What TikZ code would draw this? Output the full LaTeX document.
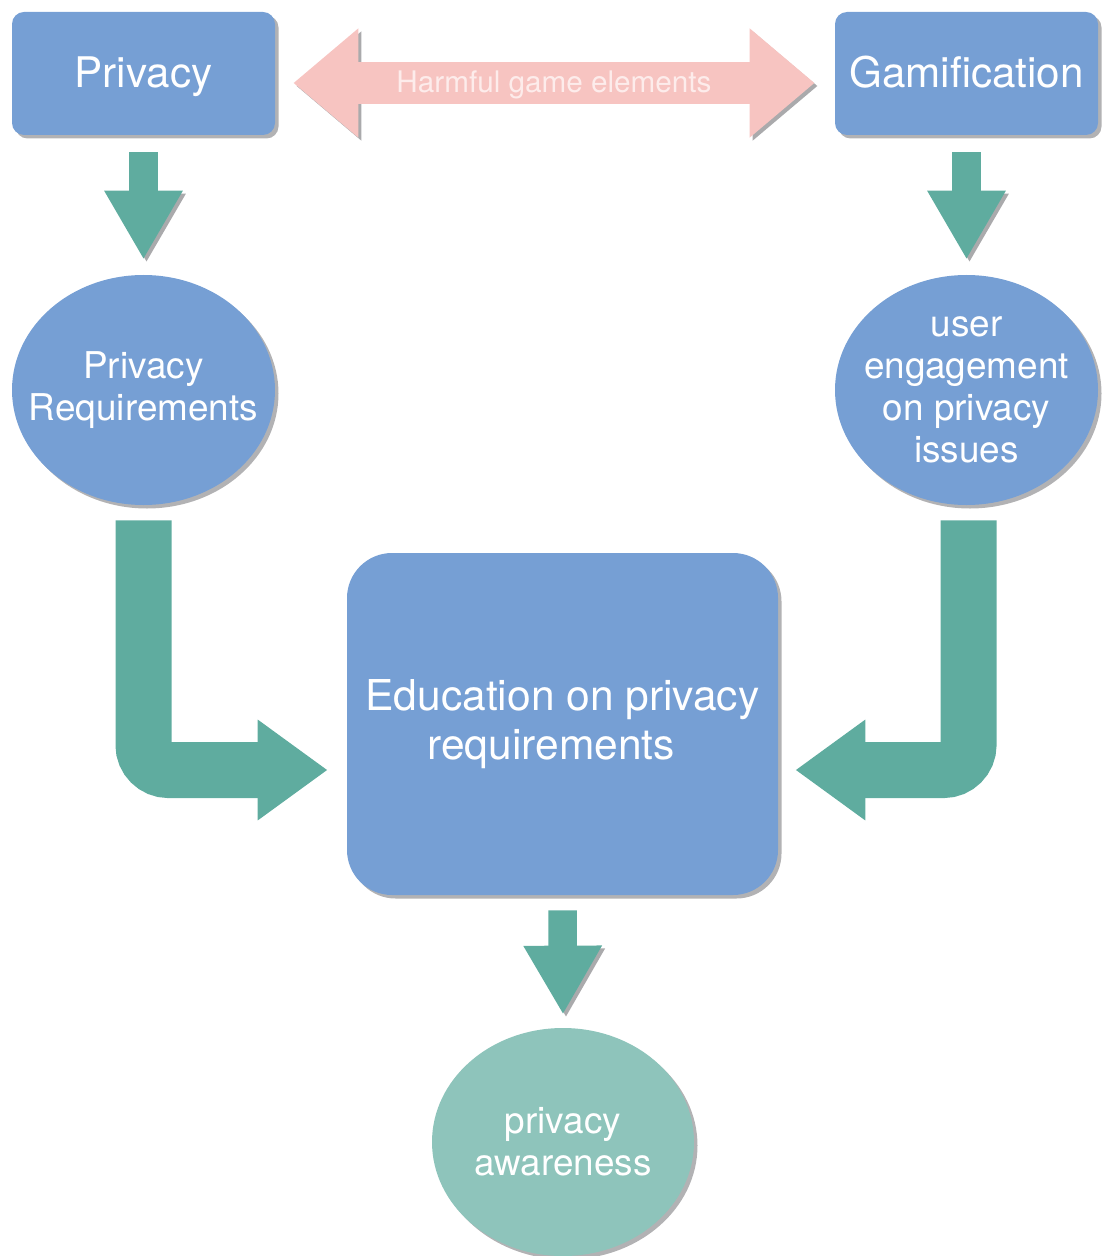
\documentclass[tikz,border=0pt]{standalone}
\usepackage{fontspec}
\setmainfont{TeX Gyre Heros}
\usetikzlibrary{positioning, calc, arrows.meta, shadows, shapes.geometric}
\definecolor{boxblue}{RGB}{118,159,212}
\definecolor{flowteal}{RGB}{95,172,159}
\definecolor{paleteal}{RGB}{142,196,187}
\definecolor{harmpink}{RGB}{247,196,193}
\definecolor{harmtext}{RGB}{253,236,235}
\definecolor{shadegray}{RGB}{170,170,172}
\tikzset{
  softshadow/.style={drop shadow={shadow xshift=0.07cm, shadow yshift=-0.07cm,
    fill=shadegray, opacity=0.9}},
  topbox/.style={fill=boxblue, rounded corners=0.24cm, softshadow, text height=0.66cm, text depth=0.08cm,
    minimum width=5.26cm, minimum height=2.46cm, text=white, font=\fontsize{24}{28}\selectfont},
  bubble/.style={ellipse, fill=boxblue, softshadow, minimum width=5.26cm, minimum height=4.6cm,
    inner xsep=-0.6cm, inner ysep=0pt, align=center, text=white, font=\fontsize{21}{24}\selectfont},
  edubox/.style={fill=boxblue, rounded corners=0.9cm, softshadow, minimum width=8.62cm,
    minimum height=6.84cm, align=center, text=white, font=\fontsize{24.2}{26.2}\selectfont},
  downarrow/.style={draw=flowteal, line width=0.57cm, -{Triangle[width=1.47cm, length=1.38cm]},
    preaction={draw=shadegray, transform canvas={shift={(0.06,-0.06)}}}},
  elbowarrow/.style={draw=flowteal, line width=1.12cm, rounded corners=0.5cm,
    -{Triangle[width=1.92cm, length=1.4cm]}},
  harmarrow/.style={draw=harmpink, line width=0.84cm,
    {Triangle[width=2.1cm, length=1.3cm]}-{Triangle[width=2.1cm, length=1.3cm]},
    preaction={draw=shadegray, transform canvas={shift={(0.06,-0.06)}}}},
  harmlabel/.style={text=harmtext, font=\fontsize{16.9}{19}\selectfont}
}

\begin{document}
\begin{tikzpicture}
  \useasboundingbox (0,0) rectangle (22.02,-25.12);

  % top row
  \node[topbox] (privacy) at (2.87,-1.47) {Privacy};
  \node[topbox] (gamif) at (19.33,-1.47) {Gamification};

  % second row
  \node[bubble] (privreq) at (2.87,-7.8) {Privacy\\Requirements};
  \node[bubble] (engage) at (19.33,-7.8) {user\\engagement\\on privacy\\issues};

  % centre and result
  \node[edubox] (edu) at (11.25,-14.48) {Education on privacy\\[0.05cm]requirements\hspace*{0.45cm}};
  \node[bubble, fill=paleteal, minimum width=5.24cm, minimum height=4.56cm] (aware)
    at (11.26,-22.84) {privacy\\awareness};

  \draw[harmarrow] ([shift={(0.36,-0.19)}]privacy.east) -- ([shift={(-0.4,-0.19)}]gamif.west)
    node[midway, harmlabel, yshift=-0.03cm] {Harmful game elements};

  \draw[downarrow] ([yshift=-0.34cm]privacy.south) -- ([yshift=0.3cm]privreq.north);
  \draw[downarrow] ([yshift=-0.34cm]gamif.south) -- ([yshift=0.3cm]engage.north);
  \draw[downarrow] ([yshift=-0.3cm]edu.south) -- ([yshift=0.26cm]aware.north);

  \draw[elbowarrow] ([yshift=-0.3cm]privreq.south) |- ([shift={(-0.38,-0.92)}]edu.west);
  \draw[elbowarrow] ([shift={(0.04,-0.3)}]engage.south) |- ([shift={(0.34,-0.92)}]edu.east);
\end{tikzpicture}
\end{document}
